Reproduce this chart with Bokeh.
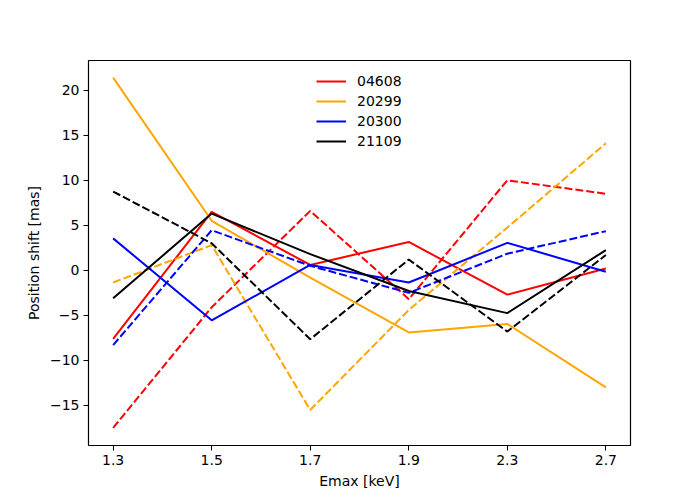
from bokeh.plotting import figure
from bokeh.models import FixedTicker, Range1d, Legend, LegendItem
from bokeh.embed import file_html
from bokeh.resources import INLINE

categories = ["1.3", "1.5", "1.7", "1.9", "2.3", "2.7"]
obs_ids = ["04608", "20299", "20300", "21109"]
colors = ["red", "orange", "blue", "black"]

# solid lines
solid_04608 = [-7.6, 6.5, 0.6, 3.15, -2.7, 0.2]
solid_20299 = [21.4, 5.5, -0.8, -6.9, -5.95, -13.0]
solid_20300 = [3.55, -5.55, 0.6, -1.35, 3.05, -0.15]
solid_21109 = [-3.1, 6.3, 1.8, -2.3, -4.75, 2.25]
# dashed lines
dashed_04608 = [-17.5, -4.1, 6.6, -3.2, 10.0, 8.5]
dashed_20299 = [-1.35, 2.8, -15.5, -4.4, 4.75, 14.1]
dashed_20300 = [-8.3, 4.45, 0.5, -2.5, 1.85, 4.35]
dashed_21109 = [8.75, 3.0, -7.65, 1.2, -6.8, 1.7]

solid = [solid_04608, solid_20299, solid_20300, solid_21109]
dashed = [dashed_04608, dashed_20299, dashed_20300, dashed_21109]

y_ticks = [-15, -10, -5, 0, 5, 10, 15, 20]

FONT = "DejaVu Sans"

p = figure(width=692, height=492, output_backend="svg", toolbar_location=None,
           frame_width=542, frame_height=385,
           min_border_left=88, min_border_right=62, min_border_top=60, min_border_bottom=47,
           x_range=Range1d(-0.25, len(categories) - 1 + 0.25),
           y_range=Range1d(-19.45, 23.3))

xs = list(range(len(categories)))
items = []
for i, oid in enumerate(obs_ids):
    r = p.line(xs, solid[i], line_color=colors[i], line_width=2)
    p.line(xs, dashed[i], line_color=colors[i], line_width=2, line_dash="8 3")
    items.append(LegendItem(label=oid, renderers=[r]))

p.grid.visible = False
p.outline_line_color = "black"
p.outline_line_width = 1.2
p.background_fill_color = "white"
p.border_fill_color = "white"

p.xaxis.ticker = FixedTicker(ticks=xs)
p.xaxis.major_label_overrides = {i: c for i, c in enumerate(categories)}
p.yaxis.ticker = FixedTicker(ticks=y_ticks)
p.yaxis.major_label_overrides = {t: (str(t).replace("-", "\u2212")) for t in y_ticks}

for ax in [p.xaxis[0], p.yaxis[0]]:
    ax.axis_line_color = None
    ax.minor_tick_line_color = None
    ax.major_tick_in = 0
    ax.major_tick_out = 5
    ax.major_tick_line_color = "black"
    ax.major_label_text_font = FONT
    ax.major_label_text_font_size = "14px"
    ax.major_label_text_color = "black"
    ax.major_label_standoff = 4
    ax.axis_label_text_font = FONT
    ax.axis_label_text_font_size = "14px"
    ax.axis_label_text_font_style = "normal"
    ax.axis_label_text_color = "black"
    ax.axis_label_standoff = 5

p.xaxis.axis_label = "Emax [keV]"
p.yaxis.axis_label = "Position shift [mas]"

legend = Legend(items=items, location=(228, 294), orientation="vertical",
                border_line_color=None, background_fill_alpha=0,
                padding=0, margin=0, spacing=0,
                glyph_width=30, glyph_height=20, label_height=20,
                label_standoff=11,
                label_text_font=FONT, label_text_font_size="14px",
                label_text_color="black")
legend.items[0].label  # noqa
p.add_layout(legend, "center")

open("out.html", "w").write(file_html(p, INLINE))
